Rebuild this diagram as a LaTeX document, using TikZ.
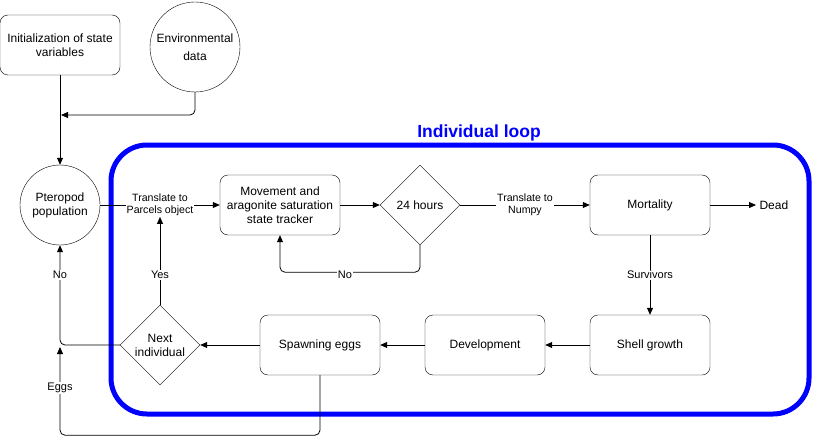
\documentclass[tikz,border=0pt]{standalone}
\usepackage{fontspec}
\setmainfont{Liberation Sans}
\usetikzlibrary{arrows.meta,shapes.geometric}
\begin{document}
\begin{tikzpicture}[x=1pt,y=-1pt,
    box/.style={draw,rounded corners=8pt,minimum width=120pt,minimum height=60pt,align=center,inner sep=1pt,font=\fontsize{12}{14}\selectfont},
    ring/.style={draw,circle,inner sep=0pt,align=center,font=\fontsize{12}{18}\selectfont},
    decide/.style={draw,diamond,aspect=1,minimum width=80pt,minimum height=80pt,inner sep=0pt},
    txt/.style={align=center,font=\fontsize{12}{14}\selectfont},
    elabel/.style={fill=white,inner sep=1pt,align=center,font=\fontsize{11}{12}\selectfont},
    arr/.style={-{Triangle[length=7pt,width=6pt]},line width=0.8pt,rounded corners=5pt},
    line/.style={line width=0.8pt,rounded corners=5pt}]
    \useasboundingbox (0,0) rectangle (813,444);
    % loop frame
    \draw[blue,line width=5pt,rounded corners=36pt] (111,145) rectangle (809,414);
    \node[blue,font=\fontsize{17.5}{19}\selectfont\bfseries] (title) at (479,133) {Individual loop};
    % nodes
    \node[box] (init) at (60,45) {Initialization of state\\variables};
    \node[ring,minimum size=90pt] (env) at (195,47) {Environmental\\data};
    \node[ring,minimum size=80pt,font=\fontsize{12}{14}\selectfont] (pop) at (60,205) {Pteropod\\population};
    \node[box] (move) at (280,205) {Movement and\\aragonite saturation\\state tracker};
    \node[decide] (hrs) at (420,205) {};
    \node[txt] (hrstxt) at (hrs) {24 hours};
    \node[box] (mort) at (650,205) {Mortality};
    \node[txt,anchor=west] (dead) at (756,205) {Dead};
    \node[box] (shell) at (650,345) {Shell growth};
    \node[box] (devel) at (485,345) {Development};
    \node[box] (spawn) at (320,345) {Spawning eggs};
    \node[decide] (nxt) at (160,345) {};
    \node[txt] (nxttxt) at (nxt) {Next\\individual};
    \coordinate (j1) at (61,115);
    \coordinate (j2) at (60,347);
    % connectors
    \draw[arr] (init.south) -- (pop.north);
    \draw[arr] (env.south) |- (j1);
    \draw[arr] (pop.east) -- (move.west);
    \node[elabel,font=\fontsize{10.6}{11.5}\selectfont] (t2p) at (160,205) {Translate to\\Parcels object};
    \draw[arr] (move.east) -- (hrs.west);
    \draw[arr] (hrs.south) -- ++(0,27) -| (move.south);
    \node[elabel] (no1) at (345,275) {No};
    \draw[arr] (hrs.east) -- (mort.west);
    \node[elabel,font=\fontsize{10.6}{11.5}\selectfont] (t2n) at (525,205) {Translate to\\Numpy};
    \draw[arr] (mort.east) -- (dead.west);
    \draw[arr] (mort.south) -- (shell.north);
    \node[elabel] (surv) at (650,275) {Survivors};
    \draw[arr] (shell.west) -- (devel.east);
    \draw[arr] (devel.west) -- (spawn.east);
    \draw[arr] (spawn.west) -- (nxt.east);
    \draw[arr] (nxt.north) -- (t2p.south);
    \node[elabel] (yes) at (160,275) {Yes};
    \draw[arr] (nxt.west) -| (pop.south);
    \node[elabel] (no2) at (60,275) {No};
    \draw[arr] (spawn.south) -- ++(0,60) -| (j2);
    \node[elabel] (eggs) at (60,388) {Eggs};
\end{tikzpicture}
\end{document}
